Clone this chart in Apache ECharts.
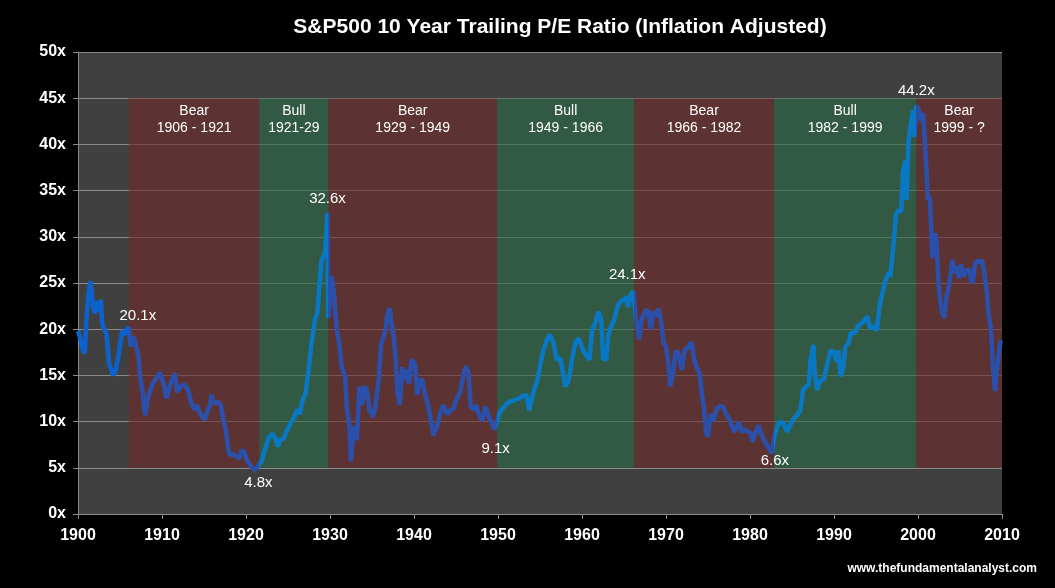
<!DOCTYPE html>
<html>
<head>
<meta charset="utf-8">
<script src="https://cdn.jsdelivr.net/npm/echarts@6/dist/echarts.min.js"></script>
<style>
  html, body { margin: 0; padding: 0; background: #000; }
  #chart { width: 1055px; height: 588px; }
</style>
</head>
<body>
<div id="chart"></div>
<script>
// P/E ratio: [year, value]
const peData = [
  [1900.0, 19.8], [1900.3, 18.9], [1900.55, 17.8], [1900.8, 17.4], [1901.0, 21.0], [1901.25, 23.8],
  [1901.5, 25.2], [1901.8, 22.4], [1902.0, 21.7], [1902.3, 23.0], [1902.5, 21.9], [1902.7, 23.2],
  [1902.9, 20.5], [1903.2, 19.9], [1903.4, 19.4], [1903.7, 16.3], [1904.2, 15.0], [1904.5, 15.6],
  [1904.8, 17.0], [1905.0, 18.3], [1905.3, 19.9], [1905.5, 19.4], [1905.75, 19.9], [1906.05, 20.2],
  [1906.3, 18.1], [1906.6, 19.2], [1906.9, 18.3], [1907.2, 17.0], [1907.4, 14.9], [1907.7, 13.1],
  [1908.0, 10.7], [1908.25, 12.3], [1908.6, 13.4], [1908.9, 14.1], [1909.2, 14.5], [1909.7, 15.3],
  [1910.2, 14.1], [1910.55, 12.5], [1910.9, 13.8], [1911.2, 14.5], [1911.55, 15.2], [1911.8, 13.2],
  [1912.2, 13.8], [1912.7, 14.0], [1913.1, 13.4], [1913.5, 12.0], [1913.9, 11.3], [1914.2, 11.8],
  [1914.4, 11.1], [1914.8, 10.5], [1915.1, 10.2], [1915.4, 11.1], [1915.7, 11.7], [1915.9, 12.9],
  [1916.1, 12.2], [1916.4, 12.0], [1916.7, 12.1], [1917.0, 11.8], [1917.3, 10.2], [1917.6, 9.1],
  [1917.9, 6.9], [1918.1, 6.4], [1918.5, 6.5], [1918.9, 6.2], [1919.2, 6.0], [1919.5, 6.9],
  [1919.8, 6.7], [1920.1, 5.8], [1920.4, 5.4], [1920.7, 5.0], [1921.0, 4.8], [1921.3, 5.0],
  [1921.6, 5.4], [1921.9, 5.8], [1922.3, 7.1], [1922.7, 8.2], [1923.1, 8.7], [1923.5, 8.2],
  [1923.8, 7.3], [1924.1, 8.0], [1924.5, 8.2], [1924.9, 9.1], [1925.3, 9.8], [1925.7, 10.4],
  [1926.1, 11.3], [1926.4, 10.8], [1926.7, 12.2], [1927.1, 13.1], [1927.4, 15.2], [1927.8, 18.5],
  [1928.2, 21.0], [1928.5, 21.8], [1928.7, 24.2], [1929.0, 27.5], [1929.4, 28.2], [1929.7, 32.6],
  [1929.8, 21.2], [1930.2, 25.7], [1930.5, 23.5], [1930.8, 20.0], [1931.1, 18.5], [1931.4, 15.9],
  [1931.8, 14.9], [1932.0, 11.6], [1932.3, 9.5], [1932.5, 5.7], [1932.8, 9.5], [1933.2, 8.0],
  [1933.5, 13.8], [1933.8, 11.8], [1934.1, 13.8], [1934.4, 13.4], [1934.7, 11.3], [1935.1, 10.5],
  [1935.4, 11.6], [1935.8, 14.5], [1936.1, 18.5], [1936.3, 19.0], [1936.6, 19.9], [1936.8, 21.4],
  [1937.1, 22.3], [1937.3, 20.6], [1937.6, 19.1], [1937.8, 17.0], [1938.05, 13.1], [1938.3, 11.8],
  [1938.6, 15.9], [1938.9, 14.5], [1939.2, 15.6], [1939.4, 14.1], [1939.7, 16.7], [1940.1, 16.3],
  [1940.4, 12.9], [1940.7, 14.5], [1941.0, 14.5], [1941.3, 12.9], [1941.6, 12.1], [1942.0, 10.2],
  [1942.3, 8.5], [1942.7, 9.4], [1943.1, 10.8], [1943.5, 11.8], [1943.9, 10.8], [1944.3, 11.2],
  [1944.7, 11.4], [1945.1, 12.5], [1945.5, 13.2], [1945.9, 15.2], [1946.2, 16.0], [1946.5, 15.2],
  [1946.75, 11.6], [1947.1, 11.3], [1947.4, 11.8], [1947.7, 10.8], [1948.1, 10.1], [1948.5, 11.6],
  [1948.9, 10.5], [1949.3, 9.7], [1949.6, 9.1], [1950.1, 10.8], [1950.5, 11.4], [1950.9, 11.8],
  [1951.3, 12.1], [1951.9, 12.3], [1952.5, 12.5], [1953.0, 12.8], [1953.4, 12.9], [1953.7, 11.2],
  [1954.2, 13.1], [1954.7, 14.5], [1955.1, 16.5], [1955.4, 17.7], [1955.8, 18.8], [1956.2, 19.4],
  [1956.6, 18.5], [1957.0, 16.7], [1957.4, 16.9], [1957.6, 16.0], [1958.0, 13.8], [1958.4, 14.4],
  [1958.8, 16.7], [1959.2, 18.5], [1959.6, 19.0], [1960.0, 18.0], [1960.4, 17.3], [1960.9, 16.7],
  [1961.2, 19.9], [1961.6, 20.7], [1961.95, 21.9], [1962.3, 21.0], [1962.5, 16.8], [1962.9, 16.7],
  [1963.1, 19.2], [1963.4, 20.2], [1963.8, 20.9], [1964.2, 22.4], [1964.6, 23.0], [1965.0, 23.2],
  [1965.3, 23.5], [1965.5, 22.4], [1965.8, 23.7], [1966.1, 24.1], [1966.4, 21.4], [1966.8, 18.9],
  [1967.1, 21.0], [1967.6, 22.1], [1967.9, 21.9], [1968.2, 20.0], [1968.5, 21.9], [1968.8, 21.4],
  [1969.1, 22.2], [1969.4, 21.0], [1969.7, 18.5], [1970.0, 18.1], [1970.3, 16.3], [1970.5, 13.8],
  [1970.8, 15.2], [1971.2, 17.7], [1971.5, 17.3], [1971.9, 15.6], [1972.2, 17.7], [1972.7, 18.1],
  [1973.05, 18.6], [1973.3, 17.0], [1973.6, 16.0], [1974.0, 15.2], [1974.25, 13.1], [1974.5, 11.6],
  [1974.8, 8.7], [1975.0, 8.4], [1975.3, 10.8], [1975.6, 10.0], [1976.0, 11.3], [1976.4, 11.7],
  [1976.8, 11.6], [1977.2, 10.7], [1977.6, 10.2], [1978.1, 8.9], [1978.4, 9.3], [1978.7, 10.0],
  [1979.0, 8.9], [1979.4, 9.1], [1979.8, 8.9], [1980.1, 8.7], [1980.3, 7.8], [1980.6, 8.7],
  [1981.0, 9.6], [1981.4, 8.5], [1981.8, 7.8], [1982.2, 7.2], [1982.6, 6.6], [1982.9, 8.4],
  [1983.3, 9.6], [1983.7, 10.0], [1984.0, 9.8], [1984.4, 8.9], [1984.75, 9.6], [1985.2, 10.3],
  [1985.6, 10.7], [1986.0, 11.2], [1986.3, 13.4], [1986.7, 13.8], [1987.0, 14.0], [1987.2, 16.5],
  [1987.55, 18.3], [1987.7, 15.3], [1988.0, 13.4], [1988.3, 14.4], [1988.8, 14.6], [1989.2, 16.2],
  [1989.6, 17.7], [1990.0, 17.5], [1990.3, 16.5], [1990.5, 17.7], [1990.8, 14.9], [1991.1, 15.8],
  [1991.35, 18.1], [1991.75, 18.5], [1992.0, 19.6], [1992.5, 19.6], [1992.9, 20.4], [1993.5, 20.8],
  [1993.97, 21.4], [1994.3, 20.1], [1994.7, 20.3], [1995.1, 19.9], [1995.4, 22.3], [1995.7, 23.7],
  [1996.1, 25.2], [1996.5, 26.1], [1996.7, 25.7], [1996.9, 27.5], [1997.1, 29.3], [1997.4, 32.5],
  [1997.7, 32.9], [1998.0, 32.7], [1998.2, 36.9], [1998.5, 38.3], [1998.65, 34.0], [1998.85, 40.1],
  [1999.1, 41.9], [1999.4, 43.7], [1999.6, 40.8], [1999.8, 44.2], [2000.1, 43.7], [2000.4, 42.5],
  [2000.6, 43.4], [2000.8, 40.8], [2001.0, 37.2], [2001.2, 34.0], [2001.4, 34.3], [2001.6, 30.4],
  [2001.7, 27.7], [2002.0, 30.4], [2002.2, 29.7], [2002.4, 25.5], [2002.6, 23.4], [2002.8, 22.1],
  [2003.1, 21.2], [2003.4, 23.5], [2003.7, 24.8], [2004.1, 27.5], [2004.3, 26.1], [2004.6, 26.8],
  [2004.9, 25.5], [2005.1, 27.0], [2005.4, 25.7], [2005.7, 26.4], [2006.1, 26.4], [2006.3, 25.3],
  [2006.5, 25.0], [2006.8, 27.1], [2007.2, 27.5], [2007.4, 27.1], [2007.6, 27.5], [2007.9, 26.1],
  [2008.2, 24.0], [2008.4, 21.7], [2008.7, 19.9], [2008.9, 16.3], [2009.17, 13.3], [2009.4, 15.6],
  [2009.6, 17.3], [2009.85, 18.8]
];

// market regimes
const regimeNames = ["Bear", "Bull", "Bear", "Bull", "Bear", "Bull", "Bear"];
const regimeLabels = ["1906 - 1921", "1921-29", "1929 - 1949", "1949 - 1966", "1966 - 1982", "1982 - 1999", "1999 - ?"];
const regimeStart = [1906.05, 1921.6, 1929.8, 1949.9, 1966.2, 1982.85, 1999.8];
const regimeEnd = [1921.6, 1929.8, 1949.9, 1966.2, 1982.85, 1999.8, 2010];
const regimeLow = 5;
const regimeHigh = 45;

// annotated peaks and troughs
const peakYears = [1906.05, 1929.7, 1921.0, 1949.6, 1966.1, 1982.6, 1999.8];
const peakValues = [20.1, 32.6, 4.8, 9.1, 24.1, 6.6, 44.2];

const yTicks = [0, 5, 10, 15, 20, 25, 30, 35, 40, 45, 50];

const peakOffsets = [[9, -12], [0, -14], [4, 13], [1, 19], [-6, -16], [3, 8], [0, -15]];
const BEAR = "rgba(111,42,42,0.6)";
const BULL = "rgba(42,107,71,0.6)";
const LINE_PRE = "#0b62cf";
const LINE_BEAR = "#2b50ac";
const LINE_BULL = "#0878c4";

const chart = echarts.init(document.getElementById("chart"));

const pieces = [{ lt: regimeStart[0], color: LINE_PRE }];
regimeNames.forEach((n, i) => {
  pieces.push({ gte: regimeStart[i], lt: regimeEnd[i] + (i === regimeNames.length - 1 ? 1 : 0), color: n === "Bear" ? LINE_BEAR : LINE_BULL });
});

const areas = regimeNames.map((n, i) => [
  {
    name: n + "\n" + regimeLabels[i],
    xAxis: regimeStart[i],
    yAxis: regimeHigh,
    itemStyle: { color: n === "Bear" ? BEAR : BULL }
  },
  { xAxis: regimeEnd[i], yAxis: regimeLow }
]);

const marks = peakYears.map((y, i) => ({
  coord: [y, peakValues[i]],
  value: peakValues[i].toFixed(1) + "x",
  label: { offset: peakOffsets[i] }
}));

chart.setOption({
  backgroundColor: "#000",
  animation: false,
  title: {
    text: "S&P500 10 Year Trailing P/E Ratio (Inflation Adjusted)",
    left: 555,
    top: 12,
    textAlign: "center",
    textStyle: { color: "#fff", fontSize: 21, fontWeight: "bold", fontFamily: "Liberation Sans, Arial" }
  },
  grid: { left: 78, right: 53, top: 52, bottom: 74, show: true, backgroundColor: "#404040", borderWidth: 0 },
  visualMap: { show: false, type: "piecewise", dimension: 0, seriesIndex: 0, pieces: pieces },
  xAxis: {
    type: "value",
    min: 1900,
    max: 2010,
    interval: 10,
    axisLine: { lineStyle: { color: "#8c8c8c", width: 1 } },
    axisTick: { length: 5, lineStyle: { color: "#8c8c8c" } },
    axisLabel: { color: "#fff", fontSize: 16, fontWeight: "bold", fontFamily: "Liberation Sans, Arial", margin: 14, formatter: v => String(v) },
    splitLine: { show: false }
  },
  yAxis: {
    type: "value",
    min: yTicks[0],
    max: yTicks[yTicks.length - 1],
    interval: 5,
    axisLine: { show: true, lineStyle: { color: "#8c8c8c", width: 1 } },
    axisTick: { show: true, length: 5, lineStyle: { color: "#8c8c8c" } },
    axisLabel: { color: "#fff", fontSize: 16, fontWeight: "bold", fontFamily: "Liberation Sans, Arial", margin: 12, formatter: "{value}x" },
    splitLine: { lineStyle: { color: "#8a8a8a", width: 1 } }
  },
  graphic: [{
    type: "text",
    right: 18,
    top: 563,
    style: { text: "www.thefundamentalanalyst.com", fill: "#fff", font: "bold 12px Liberation Sans, Arial" }
  }],
  series: [{
    type: "line",
    data: peData,
    showSymbol: false,
    lineStyle: { width: 4.5 },
    emphasis: { disabled: true },
    silent: true,
    markArea: {
      silent: true,
      label: {
        show: true,
        position: "insideTop",
        distance: 4,
        color: "#fff",
        fontSize: 14,
        lineHeight: 17,
        fontFamily: "Liberation Sans, Arial"
      },
      data: areas
    },
    markPoint: {
      silent: true,
      symbol: "circle",
      symbolSize: 1,
      itemStyle: { color: "rgba(0,0,0,0)" },
      label: { show: true, position: "inside", color: "#fff", fontSize: 15, fontFamily: "Liberation Sans, Arial", formatter: p => p.value },
      data: marks
    }
  }]
});
</script>
</body>
</html>
